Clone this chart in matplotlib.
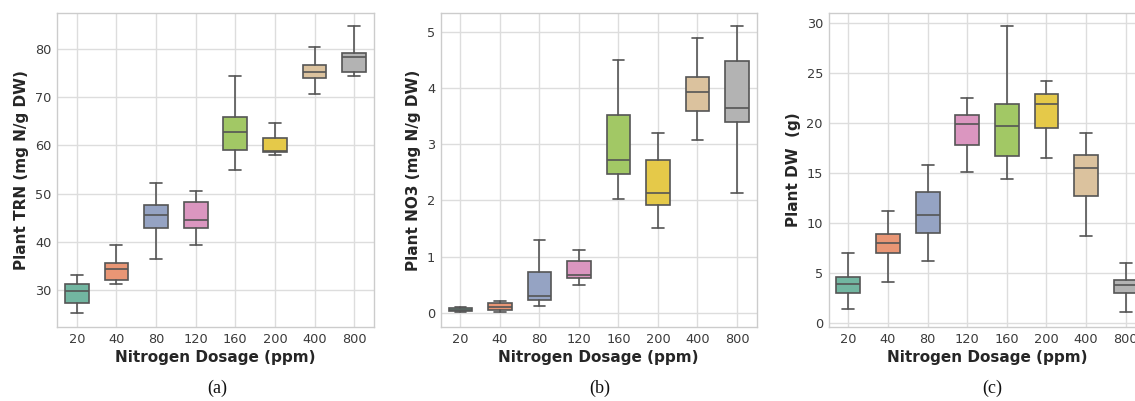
import matplotlib
matplotlib.use("Agg")
import matplotlib.pyplot as plt
import seaborn as sns

dosage = ["20", "40", "80", "120", "160", "200", "400", "800"]

# box statistics per dosage: lower whisker, q1, median, q3, upper whisker
trn_lo  = [25.3, 31.3, 36.4, 39.3, 54.8, 58.0, 70.7, 74.4]
trn_q1  = [27.2, 32.1, 42.8, 42.8, 59.0, 58.6, 74.1, 75.2]
trn_med = [29.7, 34.4, 45.5, 44.5, 62.7, 58.8, 75.3, 78.4]
trn_q3  = [31.3, 35.6, 47.7, 48.2, 65.9, 61.5, 76.8, 79.2]
trn_hi  = [33.0, 39.4, 52.3, 50.6, 74.5, 64.6, 80.4, 84.8]

no3_lo  = [0.02, 0.01, 0.12, 0.49, 2.02, 1.51, 3.08, 2.14]
no3_q1  = [0.04, 0.05, 0.23, 0.62, 2.47, 1.92, 3.58, 3.40]
no3_med = [0.06, 0.11, 0.30, 0.67, 2.72, 2.14, 3.93, 3.64]
no3_q3  = [0.08, 0.17, 0.73, 0.92, 3.52, 2.71, 4.19, 4.48]
no3_hi  = [0.10, 0.21, 1.30, 1.12, 4.50, 3.19, 4.88, 5.10]

dw_lo  = [1.4, 4.1, 6.2, 15.1, 14.4, 16.5, 8.7, 1.1]
dw_q1  = [3.0, 7.0, 9.0, 17.8, 16.7, 19.5, 12.7, 3.0]
dw_med = [3.9, 8.0, 10.8, 19.9, 19.7, 21.9, 15.5, 3.8]
dw_q3  = [4.6, 8.9, 13.1, 20.8, 21.9, 22.9, 16.8, 4.3]
dw_hi  = [7.0, 11.2, 15.8, 22.5, 29.7, 24.2, 19.0, 6.0]

sns.set_style("whitegrid")
plt.rcParams["font.family"] = ["DejaVu Sans"]

renk = sns.color_palette("Set2", 8, desat=0.75)
gri = "#555555"

fig = plt.figure(figsize=(11.35, 4.01), dpi=100)


def kutu_ciz(ax, lo, q1, med, q3, hi, ylabel, yticks, ylim):
    stats = []
    for i in range(len(dosage)):
        stats.append({"whislo": lo[i], "q1": q1[i], "med": med[i],
                      "q3": q3[i], "whishi": hi[i], "label": dosage[i]})
    parts = ax.bxp(stats, positions=range(len(dosage)), widths=0.6,
                   showfliers=False, patch_artist=True,
                   boxprops=dict(edgecolor=gri, linewidth=1.2),
                   whiskerprops=dict(color=gri, linewidth=1.2),
                   capprops=dict(color=gri, linewidth=1.2),
                   medianprops=dict(color=gri, linewidth=1.2))
    for kutu, c in zip(parts["boxes"], renk):
        kutu.set_facecolor(c)
    ax.set_xlim(-0.5, 7.5)
    ax.set_ylim(*ylim)
    ax.set_yticks(yticks)
    ax.grid(True, color="#dddddd", linewidth=1.0)
    ax.set_axisbelow(True)
    for s in ax.spines.values():
        s.set_color("#cccccc")
        s.set_linewidth(1.0)
    ax.tick_params(length=0, labelsize=9.3, colors="#3a3a3a", pad=4)
    ax.set_xlabel("Nitrogen Dosage (ppm)", fontsize=11, fontweight="bold",
                  color="#262626", labelpad=3)
    ax.set_ylabel(ylabel, fontsize=11, fontweight="bold", color="#262626")


ax1 = fig.add_axes([0.0502, 0.1845, 0.2793, 0.7831])
kutu_ciz(ax1, trn_lo, trn_q1, trn_med, trn_q3, trn_hi,
         "Plant TRN (mg N/g DW)", [30, 40, 50, 60, 70, 80], (22.3, 87.5))

ax2 = fig.add_axes([0.3883, 0.1845, 0.2784, 0.7831])
kutu_ciz(ax2, no3_lo, no3_q1, no3_med, no3_q3, no3_hi,
         "Plant NO3 (mg N/g DW)", [0, 1, 2, 3, 4, 5], (-0.25, 5.33))

# son panel sag kenardan tasiyor
ax3 = fig.add_axes([0.7300, 0.1845, 0.2793, 0.7831])
kutu_ciz(ax3, dw_lo, dw_q1, dw_med, dw_q3, dw_hi,
         "Plant DW  (g)", [0, 5, 10, 15, 20, 25, 30], (-0.37, 31.03))

for x, harf in [(217, "(a)"), (600, "(b)"), (992, "(c)")]:
    fig.text(x / 1135, 1 - 388 / 401, harf, ha="center", va="center",
             fontsize=13, family="Liberation Serif", color="#111111")

fig.savefig("out.png", dpi=100)
